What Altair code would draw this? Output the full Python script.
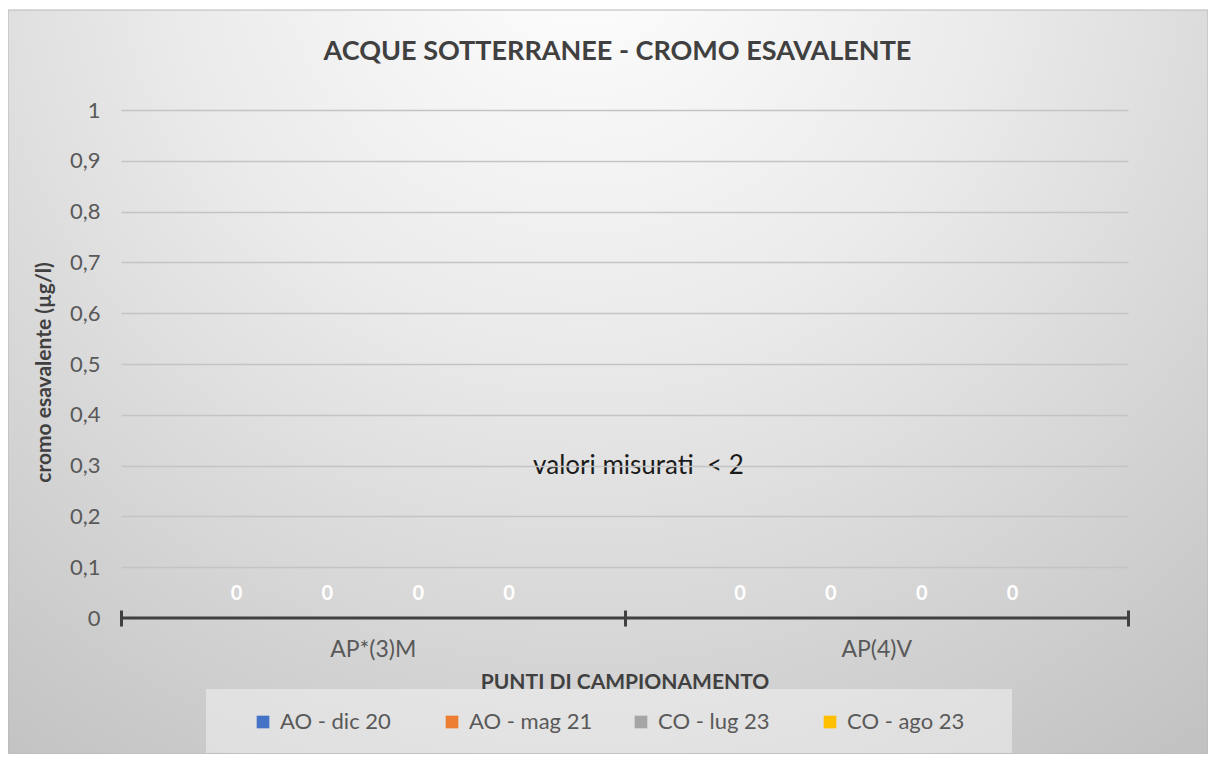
import altair as alt
import pandas as pd

# ---- data ----
categorie = ["AP*(3)M", "AP(4)V"]
serie = ["AO - dic 20", "AO - mag 21", "CO - lug 23", "CO - ago 23"]
valori_ap3m = [0, 0, 0, 0]
valori_ap4v = [0, 0, 0, 0]
colori = ["#4472C4", "#ED7D31", "#A5A5A5", "#FFC000"]

titolo = "ACQUE SOTTERRANEE - CROMO ESAVALENTE"
titolo_y = "cromo esavalente (µg/l)"
titolo_x = "PUNTI DI CAMPIONAMENTO"
nota_testo = "valori misurati\u00a0 < 2"
nota_categoria = "AP*(3)M"
nota_valore = 0.3
y_ticks = [0, 0.1, 0.2, 0.3, 0.4, 0.5, 0.6, 0.7, 0.8, 0.9, 1]

rows = []
for cat, vals in zip(categorie, [valori_ap3m, valori_ap4v]):
    for s, v in zip(serie, vals):
        rows.append({"categoria": cat, "serie": s, "valore": v})
df = pd.DataFrame(rows)
nota_df = pd.DataFrame({"categoria": [nota_categoria], "valore": [nota_valore], "testo": [nota_testo]})
one = pd.DataFrame({"k": [0]})

FONT = "Lato"
W, H = 1007, 508
PL, PT, PR, PB = 113, 102, 80, 136

x_scale = alt.Scale(domain=categorie, paddingInner=0, paddingOuter=0)
y_scale = alt.Scale(domain=[0, 1], nice=False)

gradient = alt.RadialGradient(
    gradient="radial",
    stops=[
        alt.GradientStop(color="#ffffff", offset=0),
        alt.GradientStop(color="#ebebeb", offset=0.4),
        alt.GradientStop(color="#c2c2c2", offset=1),
    ],
    x1=0.48, y1=0.12, r1=0, x2=0.48, y2=0.12, r2=0.85,
)

bg = alt.Chart(one).mark_rect(fill=gradient, stroke="#b8b8b8", strokeWidth=1).encode(
    x=alt.value(-PL), x2=alt.value(W + PR), y=alt.value(-100), y2=alt.value(H + PB)
)

legend_bg = alt.Chart(one).mark_rect(fill="#ffffff", opacity=0.4).encode(
    x=alt.value(85), x2=alt.value(891), y=alt.value(579), y2=alt.value(643)
)

x_axis = alt.Axis(
    title=titolo_x, orient="bottom", offset=-8, domain=False,
    tickBand="extent", tickSize=16, tickWidth=3, tickColor="#404040",
    labelAngle=0, labelFont=FONT, labelFontSize=23, labelColor="#595959", labelPadding=12,
    titleFont=FONT, titleFontSize=21, titleFontWeight="bold", titleColor="#404040",
    titleX=W / 2, titleY=72, titleBaseline="middle", zindex=1,
)
y_axis = alt.Axis(
    title=titolo_y, values=y_ticks, domain=False, ticks=False,
    labelExpr="datum.value == 0 ? '0' : datum.value == 1 ? '1' : replace(format(datum.value, '.1f'), '.', ',')",
    labelFont=FONT, labelFontSize=22, labelColor="#595959", labelPadding=21,
    grid=True, gridWidth=1.5,
    gridColor={"condition": {"test": "datum.value === 0", "value": "transparent"}, "value": "#c4c4c4"},
    titleFont=FONT, titleFontSize=21, titleFontWeight="bold", titleColor="#404040",
    titleAngle=270, titleX=-77, titleY=262, titleBaseline="middle", titleAlign="center", zindex=1,
)

bars = alt.Chart(df).mark_bar().encode(
    x=alt.X("categoria:N", scale=x_scale, sort=categorie, axis=x_axis),
    xOffset=alt.XOffset("serie:N", sort=serie, scale=alt.Scale(domain=serie, paddingOuter=0.77, paddingInner=0)),
    y=alt.Y("valore:Q", scale=y_scale, axis=y_axis),
    color=alt.Color(
        "serie:N", sort=serie, scale=alt.Scale(domain=serie, range=colori),
        legend=alt.Legend(
            title=None, orient="none", legendX=131, legendY=601, direction="horizontal",
            columns=4, gridAlign="all", columnPadding=37, padding=0,
            symbolType="square", symbolSize=160, symbolStrokeWidth=0, labelOffset=6,
            labelFont=FONT, labelFontSize=22, labelColor="#595959",
        ),
    ),
)

zero_line = alt.Chart(one).mark_rule(color="#404040", strokeWidth=3).encode(y=alt.datum(0))

labels = alt.Chart(df).mark_text(color="#ffffff", font=FONT, fontSize=20, fontWeight="bold", dy=-24, baseline="middle").encode(
    x=alt.X("categoria:N", scale=x_scale, sort=categorie),
    xOffset=alt.XOffset("serie:N", sort=serie),
    y=alt.Y("valore:Q"),
    text=alt.Text("valore:Q"),
)

nota = alt.Chart(nota_df).mark_text(color="#1a1a1a", font=FONT, fontSize=26, dx=14, baseline="middle", align="center").encode(
    x=alt.X("categoria:N", bandPosition=1),
    y=alt.Y("valore:Q"),
    text="testo:N",
)

chart = alt.layer(bg, legend_bg, bars, zero_line, labels, nota).properties(
    width=W, height=H,
    autosize=alt.AutoSizeParams(type="none"),
    padding={"left": PL, "top": PT, "right": PR, "bottom": PB},
    title=alt.Title(titolo, font=FONT, fontSize=27, fontWeight="bold", color="#404040",
                    anchor="middle", dx=-7, offset=-56),
).configure_view(stroke=None).configure(background="#ffffff")

chart.save("out.html", embed_options={"renderer": "svg", "actions": False})
